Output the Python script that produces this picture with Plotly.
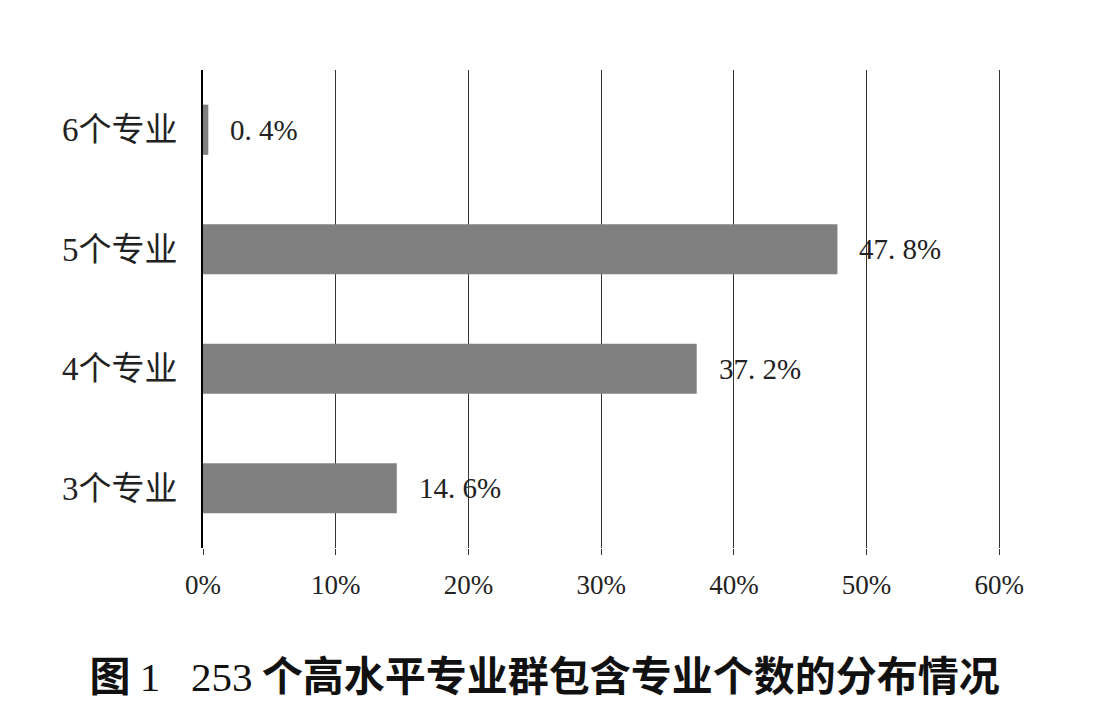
import plotly.graph_objects as go

# number of majors per group, share of 253 groups (%)
categories = ["3个专业", "4个专业", "5个专业", "6个专业"]
shares = [14.6, 37.2, 47.8, 0.4]
share_labels = ["14. 6%", "37. 2%", "47. 8%", "0. 4%"]
x_ticks = [0, 10, 20, 30, 40, 50, 60]
x_tick_text = [f"{t}%" for t in x_ticks]

serif = "Liberation Serif, Noto Sans CJK SC, serif"

fig = go.Figure()
fig.add_trace(go.Bar(
    x=shares,
    y=categories,
    orientation="h",
    width=0.42,
    marker=dict(color="#808080", line=dict(width=0)),
    hoverinfo="skip",
))

for v, c, lab in zip(shares, categories, share_labels):
    fig.add_annotation(
        x=v, y=c, text=lab, showarrow=False,
        xanchor="left", xshift=20,
        font=dict(family=serif, size=29, color="#222222"),
    )

fig.update_xaxes(
    range=[0, 60.2],
    tickvals=x_ticks,
    ticktext=x_tick_text,
    showgrid=True,
    gridcolor="#333333",
    gridwidth=1,
    zeroline=False,
    showline=False,
    ticks="outside",
    ticklen=6,
    tickcolor="#333333",
    tickfont=dict(family=serif, size=27, color="#222222"),
    ticklabelstandoff=7,
)
fig.update_yaxes(
    showgrid=False,
    showline=True,
    linecolor="#000000",
    linewidth=2,
    ticks="",
    tickfont=dict(family=serif, size=33, color="#222222"),
    ticklabelstandoff=17,
)

nb = "\u00a0"
fig.update_layout(
    width=1118,
    height=711,
    paper_bgcolor="white",
    plot_bgcolor="white",
    showlegend=False,
    margin=dict(l=195, r=124, t=62, b=171),
    title=dict(
        text=f"<b>图</b>{nb}<span style='font-family:Liberation Serif'>1{nb}{nb}{nb}253</span>{nb}<b>个高水平专业群包含专业个数的分布情况</b>",
        x=0.48, xanchor="center",
        y=0.06, yanchor="middle",
        font=dict(family="Noto Sans CJK SC", size=41, color="#111111"),
    ),
)

fig.write_html("out.html")
